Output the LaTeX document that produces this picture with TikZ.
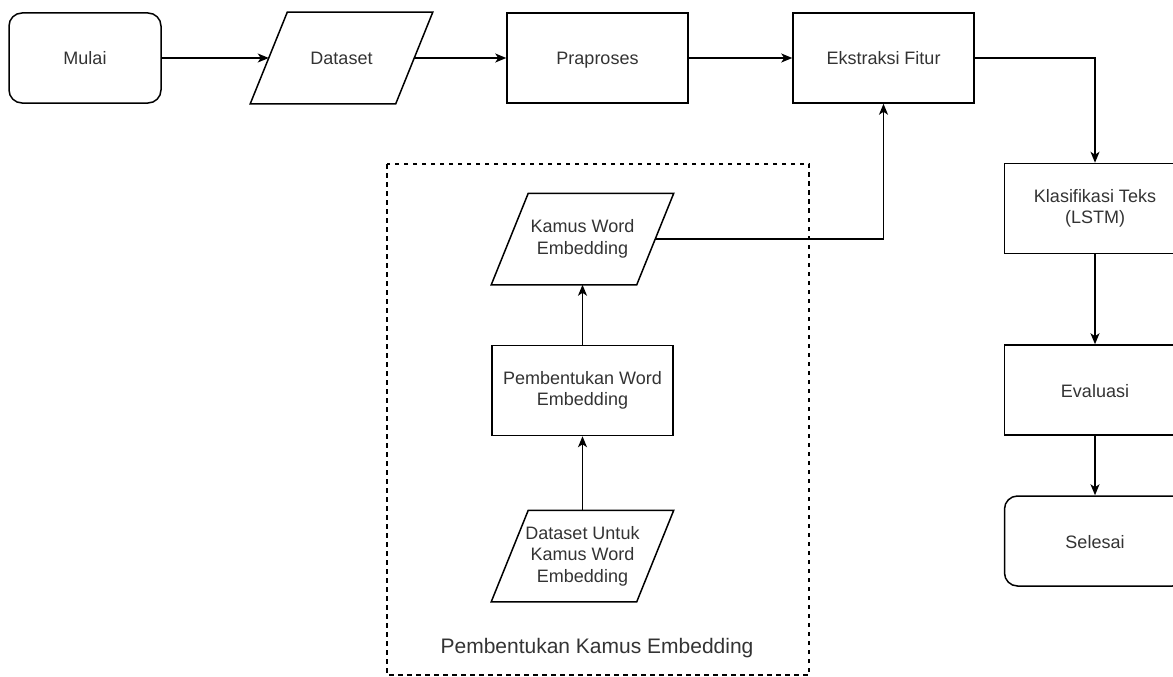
\documentclass[tikz,border=0pt]{standalone}
\usepackage{fontspec}
\setmainfont{Liberation Sans}
\usetikzlibrary{arrows.meta}
\definecolor{labelgray}{RGB}{51,51,51}
\newcommand{\boxstrut}{\rule[-3.8pt]{0pt}{21.6pt}}

\begin{document}
\begin{tikzpicture}[x=1pt,y=-1pt,line width=1.5pt,
  txt/.style={align=center, inner sep=0pt, text=labelgray, font=\fontsize{18}{21.6}\selectfont, execute at begin node=\boxstrut, execute at end node=\boxstrut},
  box/.style={txt, draw, rectangle, minimum width=181pt, minimum height=90pt},
  terminal/.style={box, rounded corners=13pt},
  io/.style={txt, rectangle, minimum width=144pt, minimum height=90pt,
    append after command={\pgfextra{\begin{pgfinterruptpath}
      \draw ([xshift=-18.5pt]\tikzlastnode.south west) -- ([xshift=18.5pt]\tikzlastnode.north west)
        -- ([xshift=18.5pt]\tikzlastnode.north east) -- ([xshift=-18.5pt]\tikzlastnode.south east) -- cycle;
      \end{pgfinterruptpath}}}},
  arr/.style={-{Stealth[length=11pt,width=9pt,inset=3pt]}}]
\useasboundingbox (0,0) rectangle (1173,677);

\node[terminal, minimum width=152pt] at (85,58) (mulai) {Mulai};
\node[io] at (341.5,58) (dataset) {Dataset};
\node[box] at (597.5,58) (praproses) {Praproses};
\node[box] at (883.5,58) (ekstraksi) {Ekstraksi Fitur};
\node[box] at (1095,208.5) (klasifikasi) {Klasifikasi Teks\\(LSTM)};
\node[box] at (1095,390) (evaluasi) {Evaluasi};
\node[terminal] at (1095,541) (selesai) {Selesai};

\draw[dashed, dash pattern=on 4.5pt off 4.5pt] (387,164) rectangle (809,675);
\node[io] at (582.5,239) (kamus) {Kamus Word\\Embedding};
\node[box] at (582.5,390.5) (pembentukan) {Pembentukan Word\\Embedding};
\node[io] at (582.5,556) (datakamus) {Dataset Untuk\\Kamus Word\\Embedding};
\node[text=labelgray, font=\fontsize{21}{25}\selectfont] at (597,648) (framelabel) {Pembentukan Kamus Embedding};

\draw[arr] (mulai) to (dataset);
\draw[arr] (dataset) to (praproses);
\draw[arr] (praproses) to (ekstraksi);
\draw[arr] (ekstraksi) -| (klasifikasi);
\draw[arr] (klasifikasi) to (evaluasi);
\draw[arr] (evaluasi) to (selesai);
\draw[arr] (datakamus) to (pembentukan);
\draw[arr] (pembentukan) to (kamus);
\draw[arr] (kamus) -| (ekstraksi);
\end{tikzpicture}
\end{document}
